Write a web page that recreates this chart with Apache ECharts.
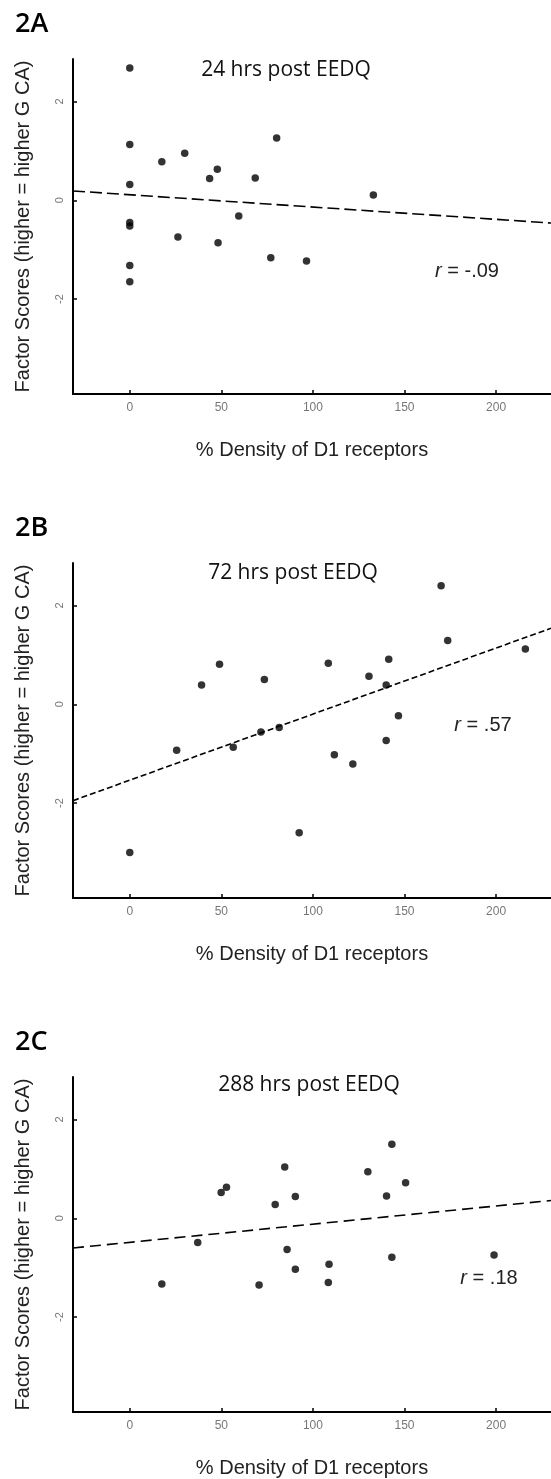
<!DOCTYPE html>
<html><head><meta charset="utf-8">
<script src="https://cdn.jsdelivr.net/npm/echarts@6/dist/echarts.min.js"></script>
<style>html,body{margin:0;padding:0;background:#fff}#c{width:551px;height:1479px}</style>
</head><body><div id="c"></div>
<script>
// ---- data ----
const xTicks = [0, 50, 100, 150, 200];
const yTicks = [-2, 0, 2];
const panelLabels = ['2A', '2B', '2C'];
const panelTitles = ['24 hrs post EEDQ', '72 hrs post EEDQ', '288 hrs post EEDQ'];
const rValues = ['-.09', '.57', '.18'];
const xName = '% Density of D1 receptors';
const yName = 'Factor Scores (higher = higher G CA)';

// Panel 2A
const xA = [0, 0, 0, 0, 0, 0, 0, 17.5, 30, 26.3, 43.6, 47.8, 48.2, 59.5, 68.5, 80.2, 77, 96.5, 133];
const yA = [2.68, 1.13, 0.32, -0.45, -0.52, -1.32, -1.65, 0.78, 0.95, -0.74, 0.44, 0.63, -0.86, -0.32, 0.45, 1.26, -1.16, -1.23, 0.11];
const fitAx = [-31, 230];
const fitAy = [0.19, -0.46];

// Panel 2B
const xB = [0, 25.6, 39.2, 49, 56.5, 71.6, 73.5, 81.6, 92.5, 108.4, 111.7, 121.8, 130.6, 140, 141.4, 140, 146.7, 170, 173.6, 216];
const yB = [-3.0, -0.93, 0.39, 0.81, -0.87, -0.56, 0.5, -0.47, -2.6, 0.83, -1.02, -1.21, 0.57, 0.39, 0.91, -0.73, -0.23, 2.4, 1.29, 1.12];
const fitBx = [-31, 230];
const fitBy = [-1.95, 1.54];

// Panel 2C
const xC = [17.5, 37.1, 49.9, 52.8, 70.6, 79.4, 84.6, 85.9, 90.4, 90.4, 108.8, 108.4, 130, 140.2, 143.1, 143.1, 150.6, 198.9];
const yC = [-1.33, -0.49, 0.52, 0.63, -1.35, 0.28, 1.04, -0.63, 0.44, -1.03, -0.93, -1.3, 0.94, 0.45, 1.5, -0.79, 0.72, -0.74];
const fitCx = [-31, 230];
const fitCy = [-0.6, 0.36];

// ---- layout ----
const xs = [xA, xB, xC], ys = [yA, yB, yC];
const fxs = [fitAx, fitBx, fitCx], fys = [fitAy, fitBy, fitCy];
const dashes = [[12, 5], [6, 3], [11, 6]];
const gridTops = [59, 563, 1077];
const gridH = 335;
const labelY = [24, 528, 1042];
const titlePos = [[286, 70], [293, 573], [309, 1085]];
const rPos = [[467, 271], [483, 725], [489, 1278]];

const grids = [], xAxes = [], yAxes = [], series = [], graphics = [];
for (let i = 0; i < 3; i++) {
  grids.push({ left: 73, top: gridTops[i], width: 478, height: gridH, containLabel: false });
  xAxes.push({
    gridIndex: i, type: 'value', min: -31, max: 230,
    axisLine: { onZero: false, lineStyle: { color: '#000', width: 2 } },
    axisTick: { inside: true, length: 4, customValues: xTicks, lineStyle: { color: '#000', width: 1.5 } },
    axisLabel: { customValues: xTicks, color: '#777', fontSize: 12, margin: 8, fontFamily: 'Liberation Sans' },
    splitLine: { show: false },
    name: xName, nameLocation: 'middle', nameGap: 46,
    nameTextStyle: { color: '#222', fontSize: 20, fontFamily: 'Liberation Sans' }
  });
  yAxes.push({
    gridIndex: i, type: 'value', min: -3.92, max: 2.86,
    axisLine: { onZero: false, lineStyle: { color: '#000', width: 2 } },
    axisTick: { inside: true, length: 4, customValues: yTicks, lineStyle: { color: '#000', width: 1.5 } },
    axisLabel: { customValues: yTicks, color: '#777', fontSize: 11, margin: 8, rotate: 90, fontFamily: 'Liberation Sans' },
    splitLine: { show: false },
    name: yName, nameLocation: 'middle', nameGap: 40,
    nameTextStyle: { color: '#222', fontSize: 20, fontFamily: 'Liberation Sans' }
  });
  series.push({
    type: 'scatter', xAxisIndex: i, yAxisIndex: i, symbol: 'circle', symbolSize: 7.5,
    itemStyle: { color: '#000' },
    data: xs[i].map((x, k) => [x, ys[i][k]])
  });
  series.push({
    type: 'line', xAxisIndex: i, yAxisIndex: i, symbol: 'none',
    lineStyle: { color: '#000', width: 1.6, type: dashes[i] },
    data: fxs[i].map((x, k) => [x, fys[i][k]])
  });
  graphics.push({ type: 'text', x: 15, y: labelY[i],
    style: { text: panelLabels[i], fontSize: 27, fontWeight: 600, fontFamily: 'Open Sans', fill: '#000', align: 'left', verticalAlign: 'middle' } });
  graphics.push({ type: 'text', x: titlePos[i][0], y: titlePos[i][1],
    style: { text: panelTitles[i], fontSize: 21, fontWeight: 500, fontFamily: 'Open Sans', fill: '#111', align: 'center', verticalAlign: 'middle' } });
  graphics.push({ type: 'text', x: rPos[i][0], y: rPos[i][1],
    style: { text: '{i|r} = ' + rValues[i], fontSize: 20, fontFamily: 'Liberation Sans', fill: '#222', align: 'center', verticalAlign: 'middle',
      rich: { i: { fontStyle: 'italic', fontSize: 20, fontFamily: 'Liberation Sans', fill: '#222' } } } });
}

const chart = echarts.init(document.getElementById('c'), null, { renderer: 'canvas' });
chart.setOption({
  animation: false,
  backgroundColor: '#fff',
  grid: grids, xAxis: xAxes, yAxis: yAxes, series: series, graphic: graphics
});
</script>
</body></html>
